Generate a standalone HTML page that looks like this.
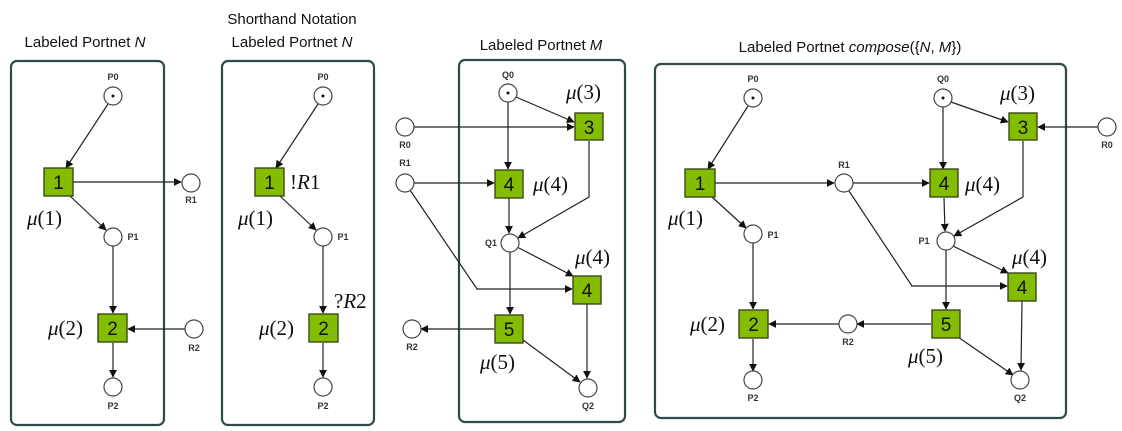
<!DOCTYPE html>
<html><head><meta charset="utf-8"><style>
body{margin:0;background:#fff;}
svg{display:block;}
.t{font-family:"Liberation Sans",sans-serif;font-size:15px;fill:#111;}
.s{font-family:"Liberation Sans",sans-serif;font-size:9px;fill:#333;text-anchor:middle;font-weight:bold;}
.m{font-family:"Liberation Serif",serif;font-size:21px;fill:#111;}
.m tspan.g{font-style:italic;}
.n{font-family:"Liberation Sans",sans-serif;font-size:19px;fill:#111;text-anchor:middle;}
.box{fill:none;stroke:#2f4a48;stroke-width:2.2;}
.pl{fill:#fff;stroke:#444;stroke-width:1.2;}
.tr{fill:#84bd00;stroke:#3a4a1a;stroke-width:1.4;}
.a{stroke:#222;stroke-width:1.2;fill:none;marker-end:url(#ar);}
</style></head><body>
<svg width="1122" height="431" viewBox="0 0 1122 431">
<defs><marker id="ar" viewBox="0 0 10 10" refX="9" refY="5" markerWidth="8" markerHeight="8" orient="auto" markerUnits="userSpaceOnUse"><path d="M0,0 L10,5 L0,10 z" fill="#111"/></marker></defs>

<text class="t" x="85" y="47" text-anchor="middle">Labeled Portnet <tspan font-style="italic">N</tspan></text>
<text class="t" x="292" y="24" text-anchor="middle">Shorthand Notation</text>
<text class="t" x="292" y="47" text-anchor="middle">Labeled Portnet <tspan font-style="italic">N</tspan></text>
<text class="t" x="541" y="50" text-anchor="middle">Labeled Portnet <tspan font-style="italic">M</tspan></text>
<text class="t" x="850" y="52" text-anchor="middle">Labeled Portnet <tspan font-style="italic">compose</tspan>({<tspan font-style="italic">N</tspan>, <tspan font-style="italic">M</tspan>})</text>

<rect class="box" x="11" y="61" width="153" height="364" rx="6"/>
<rect class="box" x="222" y="61" width="152" height="364" rx="6"/>
<rect class="box" x="459" y="60" width="166" height="362" rx="6"/>
<rect class="box" x="655" y="64" width="411" height="354" rx="6"/>

<g>
<line class="a" x1="108" y1="104" x2="66" y2="168"/>
<line class="a" x1="73" y1="182" x2="181" y2="182"/>
<line class="a" x1="70" y1="196" x2="106" y2="230"/>
<line class="a" x1="113" y1="246" x2="113" y2="313"/>
<line class="a" x1="185" y1="329" x2="128" y2="329"/>
<line class="a" x1="113" y1="343" x2="113" y2="377"/>
<circle class="pl" cx="113" cy="96" r="9"/><circle cx="113" cy="96" r="1.5" fill="#111"/>
<circle class="pl" cx="191" cy="183" r="9"/>
<circle class="pl" cx="113" cy="237" r="9"/>
<circle class="pl" cx="194" cy="329" r="9"/>
<circle class="pl" cx="113" cy="387" r="9"/>
<rect class="tr" x="44" y="168" width="29" height="28"/><text class="n" x="58.5" y="189">1</text>
<rect class="tr" x="98" y="314" width="29" height="28"/><text class="n" x="112.5" y="335">2</text>
<text class="s" x="113" y="80">P0</text>
<text class="s" x="191" y="203">R1</text>
<text class="s" x="133" y="240">P1</text>
<text class="s" x="194" y="351">R2</text>
<text class="s" x="113" y="409">P2</text>
<text class="m" x="27" y="225"><tspan class="g">μ</tspan>(1)</text>
<text class="m" x="48" y="335"><tspan class="g">μ</tspan>(2)</text>
</g>

<g>
<line class="a" x1="318" y1="104" x2="276" y2="168"/>
<line class="a" x1="280" y1="196" x2="316" y2="230"/>
<line class="a" x1="323" y1="246" x2="323" y2="313"/>
<line class="a" x1="323" y1="343" x2="323" y2="377"/>
<circle class="pl" cx="323" cy="96" r="9"/><circle cx="323" cy="96" r="1.5" fill="#111"/>
<circle class="pl" cx="323" cy="237" r="9"/>
<circle class="pl" cx="323" cy="387" r="9"/>
<rect class="tr" x="255" y="168" width="29" height="28"/><text class="n" x="269.5" y="189">1</text>
<rect class="tr" x="309" y="314" width="29" height="28"/><text class="n" x="323.5" y="335">2</text>
<text class="s" x="323" y="80">P0</text>
<text class="s" x="343" y="240">P1</text>
<text class="s" x="323" y="409">P2</text>
<text class="m" x="290" y="189" font-size="15">!<tspan font-style="italic">R</tspan>1</text>
<text class="m" x="334" y="308" font-size="15">?<tspan font-style="italic">R</tspan>2</text>
<text class="m" x="238" y="225"><tspan class="g">μ</tspan>(1)</text>
<text class="m" x="259" y="335"><tspan class="g">μ</tspan>(2)</text>
</g>

<g>
<line class="a" x1="508" y1="102" x2="508" y2="169"/>
<line class="a" x1="516" y1="97" x2="574" y2="122"/>
<line class="a" x1="414" y1="127" x2="574" y2="127"/>
<line class="a" x1="414" y1="183" x2="494" y2="183"/>
<polyline class="a" points="589,141 589,197 518,238"/>
<line class="a" x1="509" y1="198" x2="509" y2="233"/>
<line class="a" x1="517" y1="247" x2="573" y2="276"/>
<line class="a" x1="510" y1="252" x2="510" y2="314"/>
<polyline class="a" points="410,190 477,289 572,289"/>
<line class="a" x1="494" y1="329" x2="421" y2="329"/>
<line class="a" x1="523" y1="340" x2="580" y2="382"/>
<line class="a" x1="587" y1="304" x2="587" y2="378"/>
<circle class="pl" cx="508" cy="93" r="9"/><circle cx="508" cy="93" r="1.5" fill="#111"/>
<circle class="pl" cx="405" cy="127" r="9"/>
<circle class="pl" cx="405" cy="183" r="9"/>
<circle class="pl" cx="510" cy="243" r="9"/>
<circle class="pl" cx="412" cy="329" r="9"/>
<circle class="pl" cx="588" cy="388" r="9"/>
<rect class="tr" x="575" y="113" width="28" height="27"/><text class="n" x="589" y="134">3</text>
<rect class="tr" x="495" y="170" width="28" height="28"/><text class="n" x="509" y="191">4</text>
<rect class="tr" x="573" y="276" width="28" height="28"/><text class="n" x="587" y="297">4</text>
<rect class="tr" x="495" y="315" width="28" height="28"/><text class="n" x="509" y="336">5</text>
<text class="s" x="508" y="78">Q0</text>
<text class="s" x="405" y="148">R0</text>
<text class="s" x="405" y="166">R1</text>
<text class="s" x="491" y="246">Q1</text>
<text class="s" x="412" y="350">R2</text>
<text class="s" x="588" y="409">Q2</text>
<text class="m" x="566" y="99"><tspan class="g">μ</tspan>(3)</text>
<text class="m" x="533" y="191"><tspan class="g">μ</tspan>(4)</text>
<text class="m" x="575" y="264"><tspan class="g">μ</tspan>(4)</text>
<text class="m" x="480" y="369"><tspan class="g">μ</tspan>(5)</text>
</g>

<g>
<line class="a" x1="748" y1="106" x2="708" y2="169"/>
<line class="a" x1="715" y1="183" x2="834" y2="183"/>
<line class="a" x1="712" y1="197" x2="746" y2="228"/>
<line class="a" x1="853" y1="183" x2="929" y2="183"/>
<line class="a" x1="943" y1="107" x2="943" y2="169"/>
<line class="a" x1="951" y1="102" x2="1008" y2="122"/>
<line class="a" x1="1098" y1="127" x2="1038" y2="127"/>
<polyline class="a" points="1023,141 1023,197 954,236"/>
<line class="a" x1="944" y1="198" x2="945" y2="231"/>
<polyline class="a" points="849,191 912,286 1007,286"/>
<line class="a" x1="953" y1="246" x2="1008" y2="273"/>
<line class="a" x1="946" y1="250" x2="946" y2="309"/>
<line class="a" x1="931" y1="324" x2="857" y2="324"/>
<line class="a" x1="839" y1="324" x2="769" y2="324"/>
<line class="a" x1="753" y1="243" x2="753" y2="309"/>
<line class="a" x1="753" y1="339" x2="753" y2="371"/>
<line class="a" x1="958" y1="337" x2="1013" y2="375"/>
<line class="a" x1="1022" y1="301" x2="1021" y2="370"/>
<circle class="pl" cx="753" cy="98" r="9"/><circle cx="753" cy="98" r="1.5" fill="#111"/>
<circle class="pl" cx="943" cy="98" r="9"/><circle cx="943" cy="98" r="1.5" fill="#111"/>
<circle class="pl" cx="844" cy="183" r="9"/>
<circle class="pl" cx="1107" cy="127" r="9"/>
<circle class="pl" cx="753" cy="234" r="9"/>
<circle class="pl" cx="946" cy="241" r="9"/>
<circle class="pl" cx="848" cy="324" r="9"/>
<circle class="pl" cx="753" cy="380" r="9"/>
<circle class="pl" cx="1020" cy="380" r="9"/>
<rect class="tr" x="685" y="169" width="30" height="28"/><text class="n" x="700" y="190">1</text>
<rect class="tr" x="930" y="169" width="28" height="28"/><text class="n" x="944" y="190">4</text>
<rect class="tr" x="1009" y="113" width="28" height="27"/><text class="n" x="1023" y="134">3</text>
<rect class="tr" x="1008" y="273" width="28" height="28"/><text class="n" x="1022" y="294">4</text>
<rect class="tr" x="932" y="310" width="28" height="28"/><text class="n" x="946" y="331">5</text>
<rect class="tr" x="739" y="310" width="29" height="28"/><text class="n" x="753.5" y="331">2</text>
<text class="s" x="753" y="82">P0</text>
<text class="s" x="943" y="82">Q0</text>
<text class="s" x="844" y="168">R1</text>
<text class="s" x="1107" y="148">R0</text>
<text class="s" x="773" y="238">P1</text>
<text class="s" x="924" y="244">P1</text>
<text class="s" x="848" y="345">R2</text>
<text class="s" x="753" y="401">P2</text>
<text class="s" x="1020" y="401">Q2</text>
<text class="m" x="1000" y="100"><tspan class="g">μ</tspan>(3)</text>
<text class="m" x="965" y="191"><tspan class="g">μ</tspan>(4)</text>
<text class="m" x="1012" y="264"><tspan class="g">μ</tspan>(4)</text>
<text class="m" x="668" y="225"><tspan class="g">μ</tspan>(1)</text>
<text class="m" x="690" y="331"><tspan class="g">μ</tspan>(2)</text>
<text class="m" x="908" y="363"><tspan class="g">μ</tspan>(5)</text>
</g>
</svg>
</body></html>
